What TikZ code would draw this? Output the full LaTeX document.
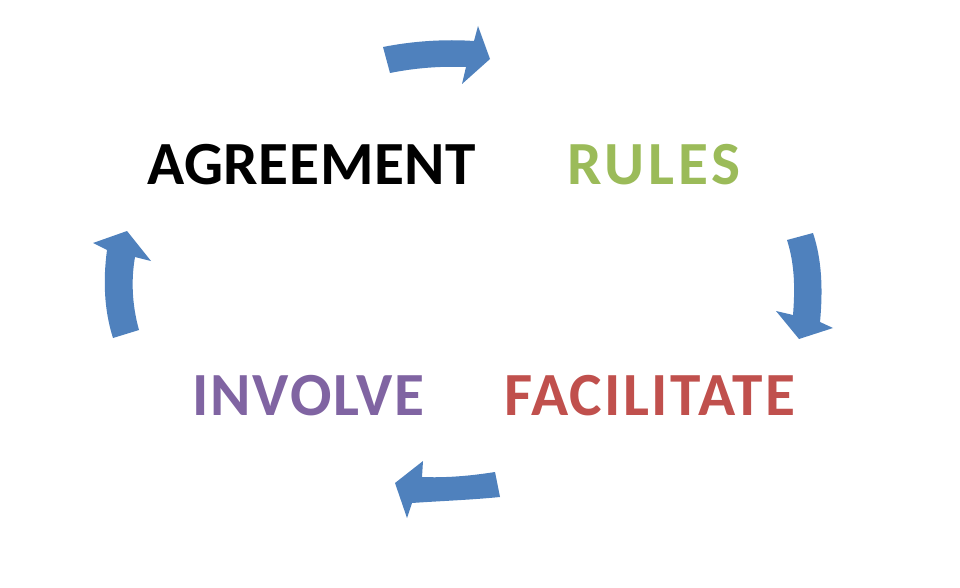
\documentclass[tikz,border=0pt]{standalone}
\usepackage{fontspec}
\setmainfont{Carlito}
\definecolor{ablue}{HTML}{4F81BD}
\definecolor{agreen}{HTML}{9BBB59}
\definecolor{apurple}{HTML}{8064A2}
\definecolor{ared}{HTML}{C0504D}
\newcommand{\spaced}[2]{{\addfontfeatures{LetterSpace=#1}#2}}
\tikzset{
  word/.style={anchor=base, inner sep=0pt, font=\fontsize{46}{50}\selectfont\bfseries},
  blockarrow/.style={fill=ablue, draw=none}
}
\begin{document}
\begin{tikzpicture}[x=0.75pt,y=-0.75pt]
\useasboundingbox (0,0) rectangle (960,588);
\node[word, text=black]   (agree) at (311.7,185) {\spaced{1}{AGREEMENT}};
\node[word, text=agreen]  (rules) at (653.7,185) {\spaced{6.5}{RULES}};
\node[word, text=apurple] (inv)   at (308.5,415) {\spaced{3.3}{INVOLVE}};
\node[word, text=ared]    (fac)   at (649.8,415) {\spaced{3.8}{FACILITATE}};
% top arrow
\fill[blockarrow] (383,47) .. controls (413,41) and (445,39) .. (474,41) -- (478,26) -- (490,59) -- (462,84) -- (466,67) .. controls (440,66) and (415,68) .. (390,73) -- cycle;
% right arrow
\fill[blockarrow] (787,240) .. controls (795,265) and (795,290) .. (793,315) -- (776,311) -- (799,339) -- (833,328) -- (820,322) .. controls (823,290) and (822,260) .. (813,233) -- cycle;
% bottom arrow
\fill[blockarrow] (495,472) .. controls (470,476) and (445,478) .. (422,477) -- (423,461) -- (395,483) -- (407,518) -- (412,503) .. controls (440,501) and (470,500) .. (500,497) -- cycle;
% left arrow
\fill[blockarrow] (113,338) .. controls (104,310) and (103,280) .. (107,250) -- (93,243) -- (127,231) -- (151,261) -- (135,257) .. controls (131,280) and (132,305) .. (139,330) -- cycle;
\end{tikzpicture}
\end{document}
